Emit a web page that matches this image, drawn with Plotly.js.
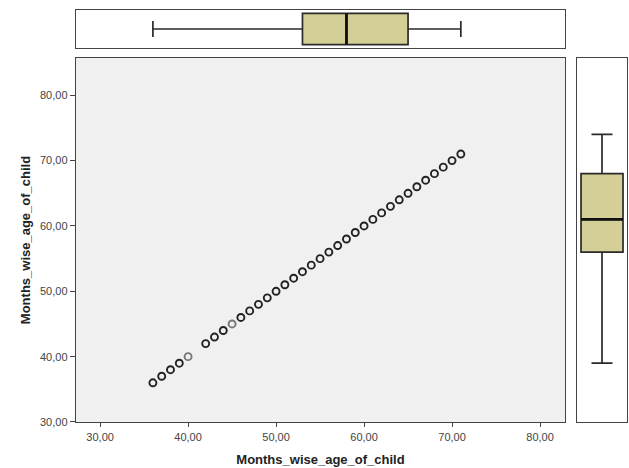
<!DOCTYPE html>
<html>
<head>
<meta charset="utf-8">
<script src="https://cdn.plot.ly/plotly-3.0.1.min.js"></script>
<style>html,body{margin:0;padding:0;background:#fff;}#chart{width:629px;height:468px;}</style>
</head>
<body>
<div id="chart"></div>
<script>
// Data: unique age values (months) shown in the scatter (x = y)
const ages = [36,37,38,39,40,42,43,44,45,46,47,48,49,50,51,52,53,54,55,56,57,58,59,60,61,62,63,64,65,66,67,68,69,70,71];
const lightAges = [40,45];
// Boxplot summary of Months_wise_age_of_child
const boxMin = [36];
const boxQ1 = [53];
const boxMedian = [58];
const boxQ3 = [65];
const boxMax = [71];
const axisTitle = "Months_wise_age_of_child";

const darkCol = '#222222', lightCol = '#777777';
const ptColors = ages.map(a => lightAges.includes(a) ? lightCol : darkCol);

const boxFill = '#d4cf96';
const topW = 0.82, rightW = 0.84;
const traces = [
  {
    type: 'scatter', mode: 'markers', x: ages, y: ages, xaxis: 'x', yaxis: 'y',
    marker: {symbol: 'circle-open', size: 7, color: ptColors, line: {width: 1.9, color: ptColors}},
    hoverinfo: 'skip', showlegend: false
  },
  {
    type: 'box', orientation: 'h', xaxis: 'x3', yaxis: 'y2',
    y: [0], q1: boxQ1, median: boxMedian, q3: boxQ3, lowerfence: boxMin, upperfence: boxMax,
    width: topW, whiskerwidth: 0.52, fillcolor: boxFill,
    line: {color: '#2a2a2a', width: 1.7}, boxpoints: false, showlegend: false, hoverinfo: 'skip'
  },
  {
    type: 'scatter', mode: 'lines', xaxis: 'x3', yaxis: 'y2',
    x: [boxMedian[0], boxMedian[0]], y: [-topW / 2, topW / 2],
    line: {color: '#111', width: 2.8}, hoverinfo: 'skip', showlegend: false
  },
  {
    type: 'box', orientation: 'v', xaxis: 'x2', yaxis: 'y3',
    x: [0], q1: boxQ1, median: boxMedian, q3: boxQ3, lowerfence: boxMin, upperfence: boxMax,
    width: rightW, whiskerwidth: 0.5, fillcolor: boxFill,
    line: {color: '#2a2a2a', width: 1.7}, boxpoints: false, showlegend: false, hoverinfo: 'skip'
  },
  {
    type: 'scatter', mode: 'lines', xaxis: 'x2', yaxis: 'y3',
    y: [boxMedian[0], boxMedian[0]], x: [-rightW / 2, rightW / 2],
    line: {color: '#111', width: 2.8}, hoverinfo: 'skip', showlegend: false
  }
];

const tickFont = {family: 'Liberation Sans, Arial, sans-serif', size: 11, color: '#444'};
const titleFont = {family: 'Liberation Sans, Arial, sans-serif', size: 13, color: '#222', weight: 'bold'};
const frame = {showline: true, mirror: true, linecolor: '#444', linewidth: 1.3, zeroline: false, showgrid: false};
const xRange = [27.26, 82.84];
const mainXDomain = [0, 0.8875];

const layout = {
  width: 629, height: 468,
  margin: {l: 76, r: 2, t: 10, b: 46},
  paper_bgcolor: '#ffffff', plot_bgcolor: '#ffffff',
  separators: ',.',
  showlegend: false,
  xaxis: Object.assign({}, frame, {
    domain: mainXDomain, range: xRange, tickvals: [30,40,50,60,70,80], tickformat: '.2f',
    ticks: 'outside', ticklen: 4, tickcolor: '#444', tickfont: tickFont,
    title: {text: axisTitle, font: titleFont, standoff: 13}
  }),
  yaxis: Object.assign({}, frame, {
    domain: [0, 0.8835], range: [30, 85.7], tickvals: [30,40,50,60,70,80], tickformat: '.2f',
    ticks: 'outside', ticklen: 5, tickcolor: '#444', tickfont: tickFont,
    title: {text: axisTitle, font: titleFont, standoff: 6}
  }),
  xaxis3: Object.assign({}, frame, {
    domain: mainXDomain, range: xRange, anchor: 'y2', showticklabels: false, ticks: ''
  }),
  yaxis2: Object.assign({}, frame, {
    domain: [0.9078, 1], range: [-0.5, 0.5], anchor: 'x3', showticklabels: false, ticks: ''
  }),
  xaxis2: Object.assign({}, frame, {
    domain: [0.9093, 1], range: [-0.5, 0.5], anchor: 'y3', showticklabels: false, ticks: ''
  }),
  yaxis3: Object.assign({}, frame, {
    domain: [0, 0.8835], range: [27, 82.7], anchor: 'x2', showticklabels: false, ticks: ''
  }),
  shapes: [
    {type: 'rect', xref: 'x domain', yref: 'y domain', x0: 0, x1: 1, y0: 0, y1: 1,
     fillcolor: '#f0f0f0', line: {width: 0}, layer: 'below'}
  ]
};

Plotly.newPlot('chart', traces, layout, {displayModeBar: false, staticPlot: true});
</script>
</body>
</html>
